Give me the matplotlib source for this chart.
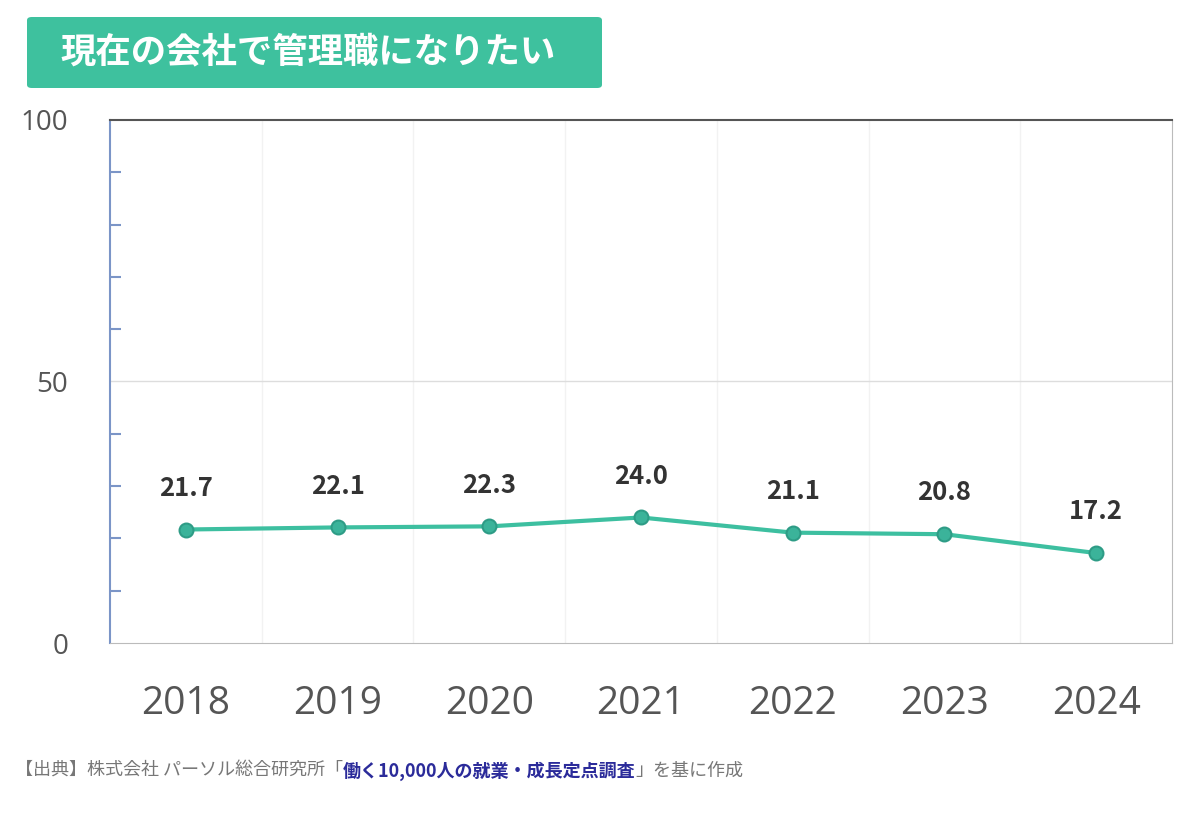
import matplotlib
matplotlib.use("Agg")
import matplotlib.pyplot as plt
from matplotlib.patches import FancyBboxPatch

years = ["2018", "2019", "2020", "2021", "2022", "2023", "2024"]
values = [21.7, 22.1, 22.3, 24.0, 21.1, 20.8, 17.2]
yticks = [0, 50, 100]
title = "現在の会社で管理職になりたい"

plt.rcParams['font.family'] = ['Noto Sans CJK JP', 'DejaVu Sans']
fig = plt.figure(figsize=(12, 8.16), dpi=100)
ax = fig.add_axes([110/1200, 1-643/816, 1062/1200, 523/816])
x = list(range(len(years)))
green = "#3dbfa0"
ax.plot(x, values, color=green, lw=3, marker="o", ms=10, mfc="#3bb39a", mec="#2e9c86", mew=1.5, zorder=3)
for xi, v in zip(x, values):
    ax.annotate(f"{v:.1f}", (xi, v), xytext=(0, 20), textcoords="offset points",
                ha="center", va="bottom", fontsize=18.5, fontweight="bold", color="#333333")
ax.set_xlim(-0.5, len(years) - 0.5)
ax.set_ylim(0, 100)
ax.set_xticks(x)
ax.set_xticklabels(years, fontsize=28, color="#555555", family=["Open Sans", "DejaVu Sans"])
ax.set_yticks(yticks)
ax.set_yticklabels([str(t) for t in yticks], fontsize=20, color="#555555", family=["Open Sans", "DejaVu Sans"])
ax.set_yticks(range(0, 101, 10), minor=True)
ax.tick_params(axis="x", length=0, pad=30)
ax.tick_params(axis="y", which="major", length=0, pad=30)
ax.tick_params(axis="y", which="minor", direction="in", length=8, color="#7b95c7", width=1.5)
for b in [i + 0.5 for i in range(len(years) - 1)]:
    ax.axvline(b, color="#f2f2f2", lw=1, zorder=0)
ax.axhline(50, color="#dddddd", lw=1, zorder=0)
ax.spines["left"].set_color("#7b95c7"); ax.spines["left"].set_linewidth(1.5)
ax.spines["top"].set_color("#555555"); ax.spines["top"].set_linewidth(1.5)
ax.spines["right"].set_color("#bbbbbb")
ax.spines["bottom"].set_color("#bbbbbb")

box = FancyBboxPatch((27/1200, 1-88/816), 575/1200, 71/816, boxstyle="round,pad=0,rounding_size=0.004",
                     transform=fig.transFigure, facecolor="#3ec19e", edgecolor="none")
fig.patches.append(box)
fig.text(60/1200, 1-52/816, title, fontsize=25.5, fontweight="bold", color="white", va="center", ha="left")

y = 1 - 771/816
fs = 13
t1 = fig.text(15/1200, y, "【出典】株式会社 パーソル総合研究所「", fontsize=fs, color="#777777", va="center")
fig.canvas.draw()
r = fig.canvas.get_renderer()
bb = t1.get_window_extent(r)
t2 = fig.text(bb.x1/1200, y, "働く10,000人の就業・成長定点調査", fontsize=fs, color="#2b2b9a", fontweight="bold", va="center")
bb2 = t2.get_window_extent(r)
fig.text(bb2.x1/1200, y, "」を基に作成", fontsize=fs, color="#777777", va="center")
fig.savefig("out.png", dpi=100)
